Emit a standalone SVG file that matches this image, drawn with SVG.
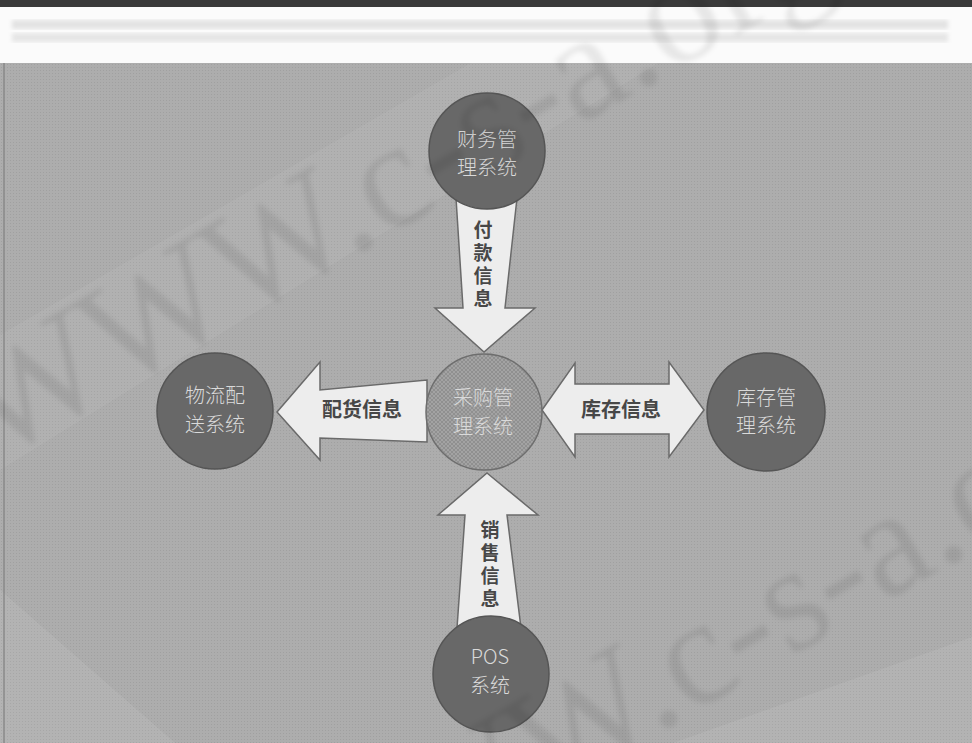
<svg xmlns="http://www.w3.org/2000/svg" width="972" height="743" viewBox="0 0 972 743">
<defs>
<style>
.node{fill:#686868;stroke:#555;stroke-width:1.5}
.hub{fill:url(#hatch);stroke:#6e6e6e;stroke-width:1.5}
.arrow{fill:#ededed;stroke:#6a6a6a;stroke-width:1.5;stroke-linejoin:miter}
.nt{font-family:"Noto Sans CJK SC","Liberation Sans",sans-serif;font-size:20px;fill:#dadada;font-weight:300;text-anchor:middle}
.at{font-family:"Noto Sans CJK SC","Liberation Sans",sans-serif;font-size:20px;fill:#474747;font-weight:bold;text-anchor:middle}
.vt{font-size:19px;writing-mode:vertical-rl;letter-spacing:4px}
.wm{font-family:"Liberation Serif",serif;font-size:150px;fill:#000;fill-opacity:0.08;filter:url(#blur)}
</style>
<pattern id="dots" width="3" height="3" patternUnits="userSpaceOnUse">
<rect width="3" height="3" fill="#adadad"/>
<rect x="1" y="1" width="1" height="1" fill="#a0a0a0"/>
</pattern>
<pattern id="hatch" width="4" height="4" patternUnits="userSpaceOnUse">
<rect width="4" height="4" fill="#a3a3a3"/>
<path d="M0,4 L4,0 M0,0 L4,4" stroke="#8c8c8c" stroke-width="0.8"/>
</pattern>
<filter id="blur" x="-10%" y="-10%" width="120%" height="120%"><feGaussianBlur stdDeviation="2.5"/></filter>
<filter id="blur2"><feGaussianBlur stdDeviation="2"/></filter>
</defs>

<g id="background">
<rect x="0" y="0" width="972" height="743" fill="url(#dots)"/>
<polygon points="0,335 580,0 760,0 0,470" fill="#fff" opacity="0.06"/>
<polygon points="0,590 175,743 0,743" fill="#fff" opacity="0.08"/>
<polygon points="673,743 972,637 972,743" fill="#fff" opacity="0.08"/>
<line x1="4" y1="62" x2="4" y2="743" stroke="#8a8a8a" stroke-width="1.5"/>
<rect x="0" y="7" width="972" height="56" fill="#fbfbfb"/>
<rect x="12" y="20" width="936" height="9" fill="#9a9a9a" opacity="0.25" filter="url(#blur2)"/>
<rect x="12" y="33" width="936" height="9" fill="#9a9a9a" opacity="0.22" filter="url(#blur2)"/>
<rect x="0" y="0" width="972" height="7" fill="#3a3a3a"/>
</g>

<g id="connectors">
<g id="edge-payment">
<polygon class="arrow" points="456,198 517,198 505,308 535,308 484,352 435,308 463,308"/>
<text class="at vt" x="483" y="266">付款信息</text>
</g>
<g id="edge-delivery">
<polygon class="arrow" points="277,412 320,362 320,390 427,380 427,442 320,438 320,460"/>
<text class="at" x="362" y="417">配货信息</text>
</g>
<g id="edge-stock">
<polygon class="arrow" points="542,410 575,363 575,384 669,384 669,362 704,410 669,457 669,434 575,434 575,457"/>
<text class="at" x="621" y="417">库存信息</text>
</g>
<g id="edge-sales">
<polygon class="arrow" points="487,473 538,515 507,515 521,628 457,628 465,515 438,515"/>
<text class="at vt" x="490" y="566">销售信息</text>
</g>
</g>

<g id="node-finance">
<circle class="node" cx="487" cy="151" r="58"/>
<text class="nt"><tspan x="487" y="147">财务管</tspan><tspan x="487" y="175">理系统</tspan></text>
</g>
<g id="node-purchase">
<circle class="hub" cx="484" cy="412" r="58"/>
<text class="nt"><tspan x="483" y="405">采购管</tspan><tspan x="483" y="434">理系统</tspan></text>
</g>
<g id="node-logistics">
<circle class="node" cx="215" cy="411" r="58"/>
<text class="nt"><tspan x="215" y="403">物流配</tspan><tspan x="215" y="432">送系统</tspan></text>
</g>
<g id="node-inventory">
<circle class="node" cx="766" cy="412" r="59"/>
<text class="nt"><tspan x="766" y="405">库存管</tspan><tspan x="766" y="433">理系统</tspan></text>
</g>
<g id="node-pos">
<circle class="node" cx="491" cy="674" r="58"/>
<text class="nt"><tspan x="490" y="664">POS</tspan><tspan x="490" y="693">系统</tspan></text>
</g>

<g id="watermark">
<text class="wm" x="-5" y="463" transform="rotate(-30 -5 463)">WWW.c-s-a.org.cn</text>
<text class="wm" x="300" y="940" transform="rotate(-30 300 940)">WWW.c-s-a.org.cn</text>
</g>
</svg>
